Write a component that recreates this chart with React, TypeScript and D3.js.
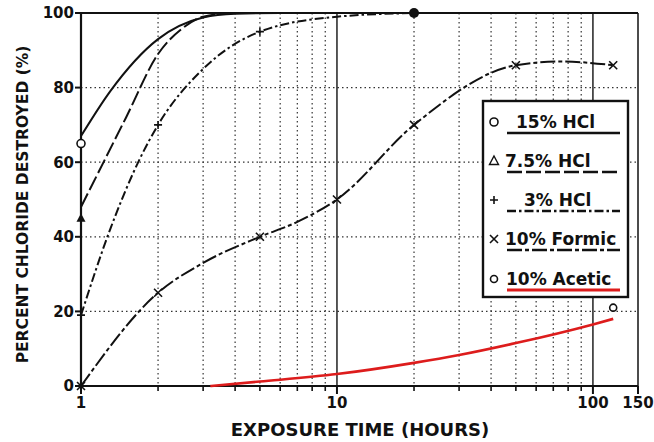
import React from 'react';
import * as d3 from 'd3';

type Pt = [number, number];

// curve points (hours, percent)
const hcl15: Pt[] = [[1, 67], [1.3, 79], [2, 93], [3, 98.8], [4, 99.8], [6, 100], [10, 100], [20, 100]];
const hcl75: Pt[] = [[1, 48], [1.5, 72], [2, 89], [2.5, 96], [3, 99], [4, 100], [10, 100], [20, 100]];
const hcl3: Pt[] = [[1, 19], [1.3, 42], [1.7, 61], [2, 70], [3, 85], [5, 95], [10, 99], [20, 100]];
const formic: Pt[] = [[1, 0], [2, 25], [3, 33], [5, 40], [7, 44], [10, 50], [20, 70], [50, 86], [75, 87], [120, 86]];
const acetic: Pt[] = [[3.2, 0], [5, 1.2], [10, 3.2], [20, 6.2], [30, 8.3], [50, 11.5], [100, 16.5], [120, 18]];

// measured points (markers)
const hcl15Marks: Pt[] = [[1, 65]];
const hcl75Marks: Pt[] = [[1, 45]];
const hcl3Marks: Pt[] = [[1, 19], [2, 70], [5, 95]];
const formicMarks: Pt[] = [[1, 0], [2, 25], [5, 40], [10, 50], [20, 70], [50, 86], [120, 86]];
const aceticMarks: Pt[] = [[120, 21]];
const endDot: Pt[] = [[20, 100]];

const yTicks = [0, 20, 40, 60, 80, 100];
const xLabels = [1, 10, 100, 150];
const xMinor = [2, 3, 4, 5, 6, 7, 8, 9, 20, 30, 40, 50, 60, 70, 80, 90];
const legendLabels = ['15% HCl', '7.5% HCl', '3% HCl', '10% Formic', '10% Acetic'];

const W = 654;
const H = 442;
const margin = { top: 13, right: 16, bottom: 56, left: 81 };

const x = d3.scaleLog().domain([1, 150]).range([margin.left, W - margin.right]);
const y = d3.scaleLinear().domain([0, 100]).range([H - margin.bottom, margin.top]);

const line = d3
  .line<Pt>()
  .x((d) => x(d[0]))
  .y((d) => y(d[1]))
  .curve(d3.curveMonotoneX);

const styles = [
  { dash: 'none', color: '#111', width: 2 },
  { dash: '15,4', color: '#111', width: 2 },
  { dash: '9,3,2.5,3', color: '#111', width: 2 },
  { dash: '15,3,4,3', color: '#111', width: 2 },
  { dash: 'none', color: '#dd1c1c', width: 2.6 },
];

const font = 'DejaVu Sans, Arial, sans-serif';

const Marker = ({ kind, cx, cy, open }: { kind: string; cx: number; cy: number; open?: boolean }) => {
  if (kind === 'circle') return <circle cx={cx} cy={cy} r={4} fill="white" stroke="#111" strokeWidth={1.6} />;
  if (kind === 'smallcircle') return <circle cx={cx} cy={cy} r={3.5} fill="white" stroke="#111" strokeWidth={1.6} />;
  if (kind === 'triangle')
    return (
      <path
        d={`M${cx},${cy - 5}L${cx + 4.5},${cy + 3.5}L${cx - 4.5},${cy + 3.5}Z`}
        fill={open ? 'white' : '#111'}
        stroke="#111"
        strokeWidth={open ? 1.4 : 0}
      />
    );
  if (kind === 'plus')
    return <path d={`M${cx - 4},${cy}H${cx + 4}M${cx},${cy - 4}V${cy + 4}`} stroke="#111" strokeWidth={1.6} />;
  if (kind === 'cross')
    return (
      <path d={`M${cx - 4},${cy - 4}L${cx + 4},${cy + 4}M${cx - 4},${cy + 4}L${cx + 4},${cy - 4}`} stroke="#111" strokeWidth={1.6} />
    );
  return <circle cx={cx} cy={cy} r={5} fill="#111" />;
};

const App = () => {
  document.body.style.margin = '0';
  const x0 = margin.left;
  const x1 = W - margin.right;
  const y0 = H - margin.bottom;
  const y1 = margin.top;

  const series = [hcl15, hcl75, hcl3, formic, acetic];
  const marks: [Pt[], string][] = [
    [hcl15Marks, 'circle'],
    [hcl75Marks, 'triangle'],
    [hcl3Marks, 'plus'],
    [formicMarks, 'cross'],
    [aceticMarks, 'smallcircle'],
    [endDot, 'dot'],
  ];

  const lg = { x: 483, y: 101, w: 145, h: 196 };
  const rowY = [128, 167, 206, 245, 285];
  const textX = [516, 505, 524, 505, 506];
  const legendMarks = ['circle', 'triangle', 'plus', 'cross', 'smallcircle'];

  return (
    <svg width={W} height={H} style={{ display: 'block', background: 'white' }}>
      {/* grid */}
      {xMinor.map((v) => (
        <line key={'gx' + v} x1={x(v)} x2={x(v)} y1={y1} y2={y0} stroke="#333" strokeWidth={1.2} strokeDasharray="1.5,3" />
      ))}
      {yTicks.slice(1, -1).map((v) => (
        <line key={'gy' + v} x1={x0} x2={x1} y1={y(v)} y2={y(v)} stroke="#333" strokeWidth={1.2} strokeDasharray="1.5,3" />
      ))}
      {[10, 100].map((v) => (
        <line key={'sx' + v} x1={x(v)} x2={x(v)} y1={y1} y2={y0} stroke="#111" strokeWidth={1.4} />
      ))}

      {/* frame */}
      <line x1={x0} x2={x1} y1={y1} y2={y1} stroke="#111" strokeWidth={2.2} />
      <line x1={x1} x2={x1} y1={y1} y2={y0} stroke="#111" strokeWidth={1.5} />
      <line x1={x0} x2={x0} y1={y1} y2={y0} stroke="#111" strokeWidth={2.2} />
      <line x1={x0} x2={x1} y1={y0} y2={y0} stroke="#111" strokeWidth={2.2} />

      {/* y ticks */}
      {yTicks.map((v) => (
        <g key={'yt' + v}>
          <line x1={x0 - 6} x2={x0} y1={y(v)} y2={y(v)} stroke="#111" strokeWidth={2} />
          <text x={x0 - 7} y={y(v)} dy="0.36em" textAnchor="end" fontFamily={font} fontWeight="bold" fontSize={15} fill="#111">
            {v}
          </text>
        </g>
      ))}

      {/* x ticks */}
      {xMinor.map((v) => (
        <line key={'xt' + v} x1={x(v)} x2={x(v)} y1={y0} y2={y0 + 5} stroke="#111" strokeWidth={1.6} />
      ))}
      {xLabels.map((v) => (
        <g key={'xl' + v}>
          <line x1={x(v)} x2={x(v)} y1={y0} y2={y0 + 8} stroke="#111" strokeWidth={2} />
          <text x={x(v)} y={y0 + 22} textAnchor="middle" fontFamily={font} fontWeight="bold" fontSize={15} fill="#111">
            {v}
          </text>
        </g>
      ))}

      {/* axis titles */}
      <text x={360} y={436} textAnchor="middle" fontFamily={font} fontWeight="bold" fontSize={18} fill="#111">
        EXPOSURE TIME (HOURS)
      </text>
      <text
        transform={`translate(28,${(y0 + y1) / 2 + 5}) rotate(-90)`}
        textAnchor="middle"
        fontFamily={font}
        fontWeight="bold"
        fontSize={15.5}
        fill="#111"
      >
        PERCENT CHLORIDE DESTROYED (%)
      </text>

      {/* curves */}
      {series.map((s, i) => (
        <path
          key={'s' + i}
          d={line(s) || ''}
          fill="none"
          stroke={styles[i].color}
          strokeWidth={styles[i].width}
          strokeDasharray={styles[i].dash}
        />
      ))}

      {/* markers */}
      {marks.map(([pts, kind]) =>
        pts.map((p, j) => <Marker key={kind + j} kind={kind} cx={x(p[0])} cy={y(p[1])} />)
      )}

      {/* legend */}
      <rect x={lg.x} y={lg.y} width={lg.w} height={lg.h} fill="white" stroke="#111" strokeWidth={2.4} />
      {legendLabels.map((label, i) => (
        <g key={'lg' + i}>
          <Marker kind={legendMarks[i]} cx={494} cy={rowY[i] - 6} open />
          <text x={textX[i]} y={rowY[i]} fontFamily={font} fontWeight="bold" fontSize={17} fill="#111">
            {label}
          </text>
          <line
            x1={507}
            x2={620}
            y1={rowY[i] + 5}
            y2={rowY[i] + 5}
            stroke={styles[i].color}
            strokeWidth={styles[i].width + 0.4}
            strokeDasharray={styles[i].dash}
          />
        </g>
      ))}
    </svg>
  );
};

export default App;
